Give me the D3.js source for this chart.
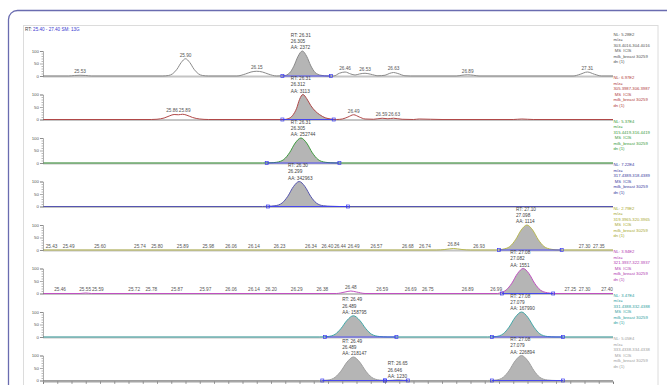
<!DOCTYPE html>
<html><head><meta charset="utf-8">
<script src="https://cdn.jsdelivr.net/npm/d3@7"></script>
<style>body{margin:0;background:#fff}svg{display:block;font-family:"Liberation Sans",Arial,sans-serif}</style>
</head><body><svg id="c" width="667" height="385"></svg>
<script>
const rtRange = [25.40, 27.40];
const yTicks = [0, 50, 100];
const header = ["RT:", "25.40 - 27.40", "SM: 13G"];

const trace1 = [[25.40,0],[25.49,0],[25.51,2],[25.53,3],[25.55,2],[25.57,0],
 [25.82,0],[25.84,2],[25.855,9],[25.87,27],[25.885,54],[25.90,69],[25.915,54],[25.93,27],[25.945,9],[25.96,2],[25.98,0],
 [26.08,0],[26.11,8],[26.13,16],[26.15,19],[26.17,16],[26.19,8],[26.22,0],
 [26.245,1],[26.265,12],[26.28,39],[26.295,79],[26.31,100],[26.325,79],[26.34,40],[26.355,14],[26.375,3],[26.40,0],
 [26.42,0],[26.44,11],[26.46,16],[26.48,8],[26.495,4],[26.51,8],[26.53,11],[26.55,7],[26.575,1],[26.60,3],[26.615,10],[26.63,14],[26.645,10],[26.67,1],[26.69,0],
 [26.85,0],[26.87,3],[26.89,5],[26.91,3],[26.93,0],
 [27.26,0],[27.285,7],[27.31,16],[27.335,7],[27.36,0],[27.40,0]];
const labels1 = [[25.53,3],[25.90,69],[26.15,19],[26.46,16],[26.53,11],[26.63,14],[26.89,5],[27.31,16]];
const blocks1 = [[26.31,100,"RT: 26.31","26.305","AA: 2372"]];
const integ1 = [[26.24,26.41]];
const info1 = ["NL: 5.28E2","m/z=","303.4016-304.4016"," MS  ICIS","milk_breast 30259","dn (1)"];

const trace2 = [[25.40,0],[25.78,0],[25.80,1],[25.825,6],[25.845,15],[25.86,20],[25.875,19],[25.89,21],[25.905,17],[25.925,8],[25.95,2],[25.98,0],
 [26.245,0],[26.26,3],[26.275,15],[26.29,45],[26.30,80],[26.312,100],[26.325,84],[26.34,55],[26.355,34],[26.37,20],[26.39,7],[26.41,2],[26.43,0],
 [26.45,2],[26.47,10],[26.49,19],[26.51,10],[26.53,2],[26.56,1],[26.59,5],[26.61,3],[26.63,5],[26.66,1],[26.70,0],[26.72,2],[26.76,1],[26.80,0],
 [27.05,0],[27.08,2],[27.12,0],[27.40,0]];
const labels2 = [[25.86,20],[25.89,21],[26.49,19],[26.59,5],[26.63,5]];
const blocks2 = [[26.31,100,"RT: 26.31","26.312","AA: 3113"]];
const integ2 = [[26.24,26.42]];
const info2 = ["NL: 6.97E2","m/z=","305.3987-306.3987"," MS  ICIS","milk_breast 30259","dn (1)"];

const trace3 = [[25.40,0],[26.17,0],[26.20,1],[26.22,3],[26.245,14],[26.265,41],[26.285,80],[26.305,100],[26.325,80],[26.345,41],[26.365,14],[26.39,3],[26.41,1],[26.44,0],[27.40,0]];
const labels3 = [];
const blocks3 = [[26.31,100,"RT: 26.31","26.305","AA: 252744"]];
const integ3 = [[26.185,26.44]];
const info3 = ["NL: 5.37E4","m/z=","315.4419-316.4419"," MS  ICIS","milk_breast 30259","dn (1)"];

const trace4 = [[25.40,0],[26.17,0],[26.19,1],[26.214,3],[26.239,14],[26.259,41],[26.279,80],[26.299,100],[26.319,80],[26.339,41],[26.359,14],[26.384,3],[26.41,1],[26.44,0],[27.40,0]];
const labels4 = [];
const blocks4 = [[26.30,100,"RT: 26.30","26.299","AA: 342963"]];
const integ4 = [[26.19,26.47]];
const info4 = ["NL: 7.22E4","m/z=","317.4389-318.4389"," MS  ICIS","milk_breast 30259","dn (1)"];

const trace5 = [[25.40,0],[26.78,0],[26.81,2],[26.84,6],[26.87,2],[26.90,0],[26.99,0],[27.013,3],[27.038,14],[27.058,41],[27.078,80],[27.098,100],[27.118,80],[27.138,41],[27.158,14],[27.183,3],[27.21,0],[27.40,0]];
const labels5 = [[25.43,0],[25.49,0],[25.60,0],[25.74,0],[25.80,0],[25.89,0],[25.98,0],[26.06,0],[26.14,0],[26.23,0],[26.34,0],[26.40,0],[26.44,0],[26.49,0],[26.57,0],[26.68,0],[26.74,0],[26.84,6],[26.93,0],[27.30,0],[27.35,0]];
const blocks5 = [[27.10,100,"RT: 27.10","27.098","AA: 1114"]];
const integ5 = [[27.00,27.22]];
const info5 = ["NL: 2.79E2","m/z=","319.3965-320.3965"," MS  ICIS","milk_breast 30259","dn (1)"];

const trace6 = [[25.40,0],[25.53,0],[25.55,2],[25.57,0],[26.43,0],[26.46,6],[26.48,10],[26.50,6],[26.53,0],[26.995,0],[27.005,3],[27.025,14],[27.045,41],[27.065,80],[27.085,100],[27.105,80],[27.125,41],[27.145,14],[27.17,3],[27.20,0],[27.40,0]];
const labels6 = [[25.46,0],[25.55,2],[25.59,0],[25.72,0],[25.78,0],[25.87,0],[25.97,0],[26.06,0],[26.14,0],[26.20,0],[26.29,0],[26.38,0],[26.48,10],[26.59,0],[26.69,0],[26.75,0],[26.89,0],[26.99,0],[27.25,0],[27.30,0],[27.40,0]];
const blocks6 = [[27.08,100,"RT: 27.08","27.082","AA: 1551"]];
const integ6 = [[27.01,27.19]];
const info6 = ["NL: 3.94E2","m/z=","321.3937-322.3937"," MS  ICIS","milk_breast 30259","dn (1)"];

const trace7 = [[25.40,0],[26.37,0],[26.40,2],[26.425,11],[26.445,33],[26.467,67],[26.489,85],[26.511,67],[26.533,33],[26.553,11],[26.58,2],[26.61,0],
 [26.96,0],[26.99,2],[27.015,13],[27.035,39],[27.057,79],[27.079,100],[27.101,79],[27.123,39],[27.143,13],[27.17,2],[27.20,0],[27.40,0]];
const labels7 = [];
const blocks7 = [[26.49,85,"RT: 26.49","26.489","AA: 158795"],[27.08,100,"RT: 27.08","27.079","AA: 167990"]];
const integ7 = [[26.39,26.64],[26.975,27.225]];
const info7 = ["NL: 3.47E4","m/z=","331.4388-332.4388"," MS  ICIS","milk_breast 30259","dn (1)"];

const trace8 = [[25.40,0],[26.37,0],[26.40,2],[26.425,13],[26.445,37],[26.467,74],[26.489,94],[26.511,74],[26.533,37],[26.553,13],[26.58,2],[26.61,0],
 [26.625,1],[26.646,3],[26.665,1],[26.69,0],
 [26.96,0],[26.99,2],[27.015,13],[27.035,39],[27.057,79],[27.079,100],[27.101,79],[27.123,39],[27.143,13],[27.17,2],[27.20,0],[27.40,0]];
const labels8 = [];
const blocks8 = [[26.49,94,"RT: 26.49","26.489","AA: 218147"],[26.65,3,"RT: 26.65","26.646","AA: 1230"],[27.08,100,"RT: 27.08","27.079","AA: 226894"]];
const integ8 = [[26.38,26.60],[26.60,26.68],[26.975,27.225]];
const info8 = ["NL: 5.05E4","m/z=","333.4338-334.4338"," MS  ICIS","milk_breast 30259","dn (1)"];

const panels = [
 {trace:trace1,labels:labels1,blocks:blocks1,integ:integ1,info:info1,color:"#8a8a8a",text:"#555"},
 {trace:trace2,labels:labels2,blocks:blocks2,integ:integ2,info:info2,color:"#b04848",text:"#b03a3a"},
 {trace:trace3,labels:labels3,blocks:blocks3,integ:integ3,info:info3,color:"#3d9a3d",text:"#3a9a3a"},
 {trace:trace4,labels:labels4,blocks:blocks4,integ:integ4,info:info4,color:"#5555b0",text:"#3a3aa0"},
 {trace:trace5,labels:labels5,blocks:blocks5,integ:integ5,info:info5,color:"#b8b850",text:"#a8a830"},
 {trace:trace6,labels:labels6,blocks:blocks6,integ:integ6,info:info6,color:"#c050c0",text:"#b038b0"},
 {trace:trace7,labels:labels7,blocks:blocks7,integ:integ7,info:info7,color:"#40a8a8",text:"#30a0a0"},
 {trace:trace8,labels:labels8,blocks:blocks8,integ:integ8,info:info8,color:"#a0a0a0",text:"#a0a0a0"}
];

const svg = d3.select("#c");
svg.append("rect").attr("width",667).attr("height",385).attr("fill","#fff");
svg.append("rect").attr("x",8.5).attr("y",10.5).attr("width",720).attr("height",420).attr("rx",9)
  .attr("fill","#fff").attr("stroke","#6a6cb0").attr("stroke-width",1.3);
svg.append("rect").attr("x",23.5).attr("y",25.5).attr("width",634.5).attr("height",420)
  .attr("fill","#fff").attr("stroke","#dcdcdc").attr("stroke-width",1);

const ht = svg.append("text").attr("x",25).attr("y",30.8).attr("font-size",4.6).attr("fill","#3a3ad0");
ht.append("tspan").attr("fill","#444").text(header[0]+" ");
ht.append("tspan").text(header[1]+"  ");
ht.append("tspan").text(header[2]);

const x = d3.scaleLinear().domain(rtRange).range([43,613]);
const FS = 4.7;
const LW = 12.6; // minimum centre spacing between neighbouring peak labels

function spread(items){
  // items: {x, y}; push horizontally overlapping labels apart (same row only)
  items.sort((a,b)=>a.x-b.x);
  for(let pass=0; pass<30; pass++){
    let moved=false;
    for(let k=1;k<items.length;k++){
      const a=items[k-1], b=items[k];
      if(Math.abs(a.y-b.y)<4 && b.x-a.x<LW){
        const s=(LW-(b.x-a.x))/2+0.01; a.x-=s; b.x+=s; moved=true;
      }
    }
    if(!moved) break;
  }
  items.forEach(it=>{ it.x=Math.min(it.x,607); });
  return items;
}

panels.forEach((p,i)=>{
  const y0 = 76 + i*43.5;
  const y = d3.scaleLinear().domain([0,100]).range([y0, y0-25]);
  const g = svg.append("g");
  const clipId = "clip"+i;
  const cp = svg.append("clipPath").attr("id",clipId);
  p.integ.forEach(r=>cp.append("rect").attr("x",x(r[0])).attr("y",y0-40).attr("width",x(r[1])-x(r[0])).attr("height",41));
  const area = d3.area().x(d=>x(d[0])).y0(y0).y1(d=>y(d[1])).curve(d3.curveMonotoneX);
  const line = d3.line().x(d=>x(d[0])).y(d=>y(d[1])).curve(d3.curveMonotoneX);
  g.append("path").datum(p.trace).attr("d",area).attr("fill","#b5b5b5").attr("clip-path",`url(#${clipId})`);
  g.append("line").attr("x1",43).attr("x2",613).attr("y1",y0+0.5).attr("y2",y0+0.5).attr("stroke","#c4c4c4").attr("stroke-width",2);
  g.append("path").datum(p.trace).attr("d",line).attr("fill","none").attr("stroke",p.color).attr("stroke-width",1);
  p.integ.forEach(r=>{
    g.append("line").attr("x1",x(r[0])).attr("x2",x(r[1])).attr("y1",y0).attr("y2",y0).attr("stroke","#3a3af0").attr("stroke-width",0.9);
    r.forEach(v=>g.append("rect").attr("x",x(v)-1.5).attr("y",y0-1.5).attr("width",3).attr("height",3)
      .attr("fill","none").attr("stroke","#3a3af0").attr("stroke-width",0.7));
  });
  const ax = d3.axisLeft(y).tickValues(yTicks).tickSize(3).tickPadding(1).tickFormat(d3.format("d"));
  const ga = g.append("g").attr("transform","translate(43,0)").call(ax);
  ga.selectAll("text").attr("font-size",4.4).attr("fill","#555").attr("font-family","Liberation Sans, Arial, sans-serif");
  ga.selectAll("line").attr("stroke","#777").attr("stroke-width",0.6);
  ga.select(".domain").attr("stroke","#777").attr("stroke-width",0.6);
  const minor = d3.axisLeft(y).tickValues(d3.range(10,100,10).filter(v=>v!==50)).tickSize(1.5).tickFormat("");
  const gm = g.append("g").attr("transform","translate(43,0)").call(minor);
  gm.selectAll("line").attr("stroke","#777").attr("stroke-width",0.5);
  gm.select(".domain").remove();
  const items = spread(p.labels.map(d=>({x:x(d[0]), y:y(d[1])-2.2, t:d[0].toFixed(2)})));
  g.selectAll(".pl").data(items).join("text")
    .attr("x",d=>d.x).attr("y",d=>d.y)
    .attr("text-anchor","middle").attr("font-size",FS).attr("fill","#555")
    .text(d=>d.t);
  p.blocks.forEach(b=>{
    const top = y(b[1]);
    [b[2],b[3],b[4]].forEach((t,k)=>{
      g.append("text").attr("x",x(b[0])-11.5).attr("y",top-2-(2-k)*6.2)
        .attr("font-size",FS).attr("fill","#444").text(t);
    });
  });
  p.info.forEach((t,k)=>{
    g.append("text").attr("x",613.5).attr("y",y0-40.4+k*5.55).attr("font-size",4.2)
      .attr("fill",p.text).attr("xml:space","preserve").style("white-space","pre").text(t);
  });
  if(i===panels.length-1){
    const bx = d3.axisBottom(x).tickValues(d3.range(25.40,27.401,0.05)).tickSize(2.5).tickFormat("");
    const gb = g.append("g").attr("transform",`translate(0,${y0+1})`).call(bx);
    gb.selectAll("line").attr("stroke","#666").attr("stroke-width",0.6);
    gb.select(".domain").attr("stroke","#666").attr("stroke-width",0.6);
  }
});
</script></body></html>
